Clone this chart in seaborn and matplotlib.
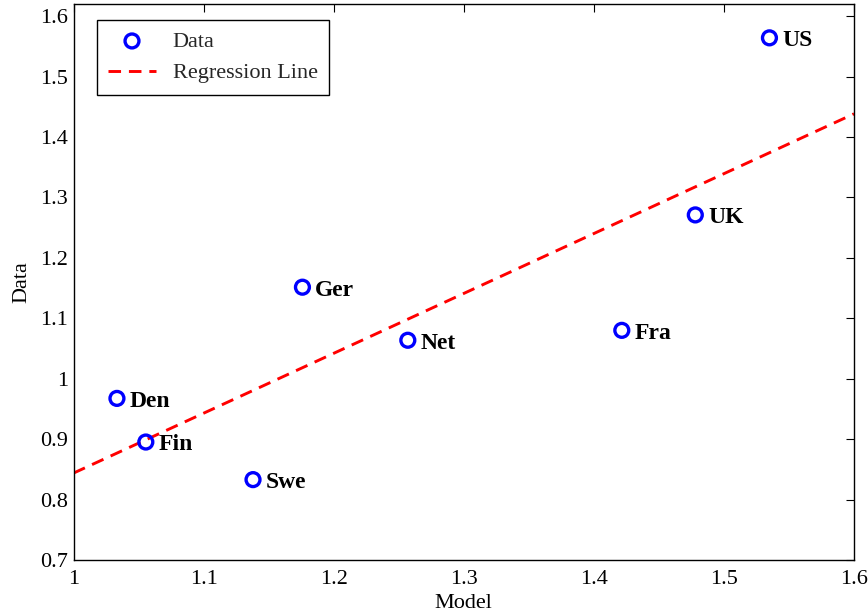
import matplotlib
matplotlib.use("Agg")
import matplotlib.pyplot as plt
import seaborn as sns
import numpy as np

countries = ["US", "UK", "Fra", "Net", "Ger", "Den", "Fin", "Swe"]
model = [1.535, 1.478, 1.4215, 1.257, 1.176, 1.0334, 1.0556, 1.138]
data = [1.564, 1.271, 1.080, 1.0636, 1.1514, 0.9674, 0.8952, 0.833]
xticks = [1, 1.1, 1.2, 1.3, 1.4, 1.5, 1.6]
xticklabels = ["1", "1.1", "1.2", "1.3", "1.4", "1.5", "1.6"]
yticks = [0.7, 0.8, 0.9, 1.0, 1.1, 1.2, 1.3, 1.4, 1.5, 1.6]
yticklabels = ["0.7", "0.8", "0.9", "1", "1.1", "1.2", "1.3", "1.4", "1.5", "1.6"]

sns.set_theme(style="white")
plt.rcParams["font.family"] = ["Liberation Serif", "DejaVu Serif"]

fig = plt.figure(figsize=(8.68, 6.14), dpi=100)
ax = fig.add_axes([73.5 / 868, 1 - 560 / 614, (854 - 73.5) / 868, (560 - 4) / 614])

xlim = (1.0, 1.6)
ylim = (0.7, 1.62)

slope, intercept = np.polyfit(model, data, 1)
xfit = np.array(xlim)
yfit = intercept + slope * xfit

sns.scatterplot(x=model, y=data, ax=ax, marker="o", s=100, facecolor="none",
                edgecolor="#0000ff", linewidth=2.4, label="Data", zorder=3)
sns.lineplot(x=xfit, y=yfit, ax=ax, color="#ff0000", linewidth=2.1,
             dashes=False, label="Regression Line", zorder=2)
ax.lines[-1].set_dashes((4.3, 2.7))

for c, xv, yv in zip(countries, model, data):
    ax.annotate(c, (xv, yv), xytext=(9.3, -6.0), textcoords="offset points",
                ha="left", va="baseline", fontsize=17, fontweight="bold",
                color="black")

ax.set_xlim(*xlim)
ax.set_ylim(*ylim)
ax.set_xticks(xticks)
ax.set_xticklabels(xticklabels)
ax.set_yticks(yticks)
ax.set_yticklabels(yticklabels)
ax.tick_params(direction="in", length=6, width=0.8, top=True, right=True,
               labelsize=16, colors="black", pad=4)
ax.tick_params(axis="x", pad=7)
for sp in ax.spines.values():
    sp.set_color("black")
    sp.set_linewidth(1.0)

ax.set_xlabel("Model", fontsize=16, color="black", labelpad=4)
ax.set_ylabel("Data", fontsize=16, color="black", labelpad=6)

leg = ax.legend(loc="upper left", bbox_to_anchor=(0.0301, 0.971), borderaxespad=0,
                fontsize=16, frameon=True, fancybox=False, edgecolor="black",
                handlelength=2.15, handletextpad=0.75, borderpad=0.5,
                labelspacing=0.5)
leg.get_frame().set_linewidth(1.0)
leg.get_frame().set_alpha(1)

fig.savefig("out.png", dpi=100, facecolor="white")
